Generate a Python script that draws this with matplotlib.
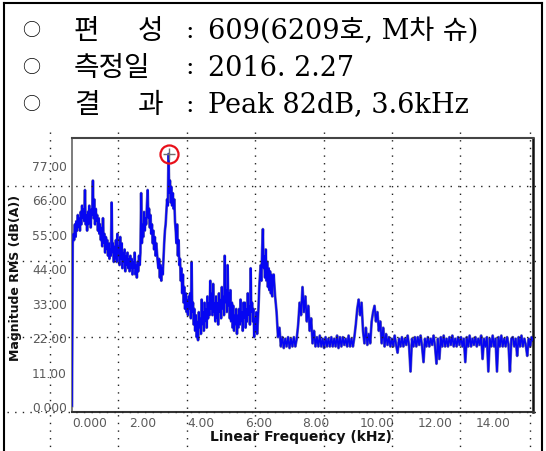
import numpy as np
import matplotlib
matplotlib.use("Agg")
import matplotlib.pyplot as plt
from matplotlib.lines import Line2D

# ---------------- data ----------------
# 0 - 6.975 kHz, read every 0.025 kHz
low_step_khz = 0.025
levels_low_db = [
    # 0.000 - 0.475
    0, 52, 55, 53, 58, 54, 59, 56, 61, 57, 60, 56, 62, 58, 64, 60, 63, 59, 69, 58,
    # 0.500 - 0.975
    61, 56, 62, 58, 64, 60, 57, 63, 61, 72, 60, 66, 58, 63, 59, 61, 56, 60, 55, 58,
    # 1.000 - 1.475
    53, 57, 51, 60, 52, 55, 49, 54, 50, 53, 48, 52, 47, 50, 48, 65, 49, 52, 46, 51,
    # 1.500 - 1.975
    47, 53, 46, 55, 48, 51, 45, 54, 47, 52, 44, 49, 46, 50, 43, 48, 45, 49, 44, 47,
    # 2.000 - 2.475
    43, 48, 44, 47, 42, 46, 44, 49, 42, 45, 41, 46, 43, 48, 45, 49, 68, 52, 58, 54,
    # 2.500 - 2.975
    62, 56, 60, 58, 64, 69, 60, 63, 57, 61, 55, 58, 52, 56, 50, 54, 48, 52, 49, 46,
    # 3.000 - 3.475
    44, 47, 41, 45, 40, 44, 42, 47, 52, 56, 58, 62, 66, 64, 80.5, 68, 72, 65, 70, 64,
    # 3.500 - 3.975
    68, 63, 66, 59, 56, 52, 58, 48, 53, 45, 47, 40, 44, 36, 42, 33, 38, 31, 36, 30,
    # 4.000 - 4.475
    34, 29, 35, 31, 36, 28, 46, 30, 33, 26, 31, 24, 29, 22, 27, 21, 30, 25, 28, 23,
    # 4.500 - 4.975
    34, 26, 30, 24, 33, 27, 31, 25, 35, 28, 33, 29, 40, 31, 36, 29, 39, 30, 33, 27,
    # 5.000 - 5.475
    35, 28, 33, 26, 36, 30, 34, 28, 38, 31, 35, 29, 48, 33, 37, 30, 45, 32, 36, 28,
    # 5.500 - 5.975
    37, 27, 33, 25, 32, 24, 29, 26, 31, 23, 29, 25, 31, 26, 34, 27, 30, 24, 33, 28,
    # 6.000 - 6.475
    33, 25, 31, 27, 36, 29, 32, 26, 44, 30, 33, 27, 31, 22, 28, 24, 30, 23, 27, 32,
    # 6.500 - 6.975
    38, 42, 45, 40, 50, 56.5, 44, 48, 41, 50, 40, 46, 38, 44, 37, 43, 36, 42, 35, 40,
]
# 7.00 - 16.00 kHz, read every 0.05 kHz
high_start_khz = 7.0
high_step_khz = 0.05
levels_high_db = [
    # 7.00 - 7.95
    42, 35, 30, 22, 25, 19, 22, 18.5, 21.5, 19, 22, 18.5, 21.5, 19, 22, 19, 21.5, 26, 33, 29,
    # 8.00 - 8.95
    38, 30, 35, 27, 32, 24, 28, 20, 24, 19, 22, 19, 22.5, 19, 21.5, 18.5, 22, 19, 21.5, 19,
    # 9.00 - 9.95
    22, 19, 21.5, 19, 22.5, 18.5, 22, 19, 22, 19.5, 21.5, 19, 22.5, 19, 21.5, 19, 22, 26, 31, 34,
    # 10.00 - 10.95
    29, 33, 24, 20, 25, 19.5, 23, 20, 27, 30, 32, 27, 30, 24, 27, 20, 25, 19, 23, 19.5,
    # 11.00 - 11.95
    22, 19, 21.5, 19, 22.5, 19.5, 17, 21.5, 19, 22, 19, 21.5, 19.5, 22.5, 19, 11, 21.5, 19, 22, 19,
    # 12.00 - 12.95
    22, 19.5, 22.5, 19, 14, 21.5, 19, 22, 19, 21.5, 19.5, 22.5, 19, 13.5, 21.5, 15, 22, 19, 22.5, 19,
    # 13.00 - 13.95
    21.5, 19, 22, 19.5, 22.5, 19, 21.5, 19, 22, 19.5, 22, 19, 21.5, 14, 22, 19, 22.5, 19, 21.5, 19.5,
    # 14.00 - 14.95
    22, 19, 21.5, 19.5, 22.5, 15, 21.5, 19, 22, 11, 21.5, 19, 22.5, 19, 21.5, 11, 22, 19, 22.5, 19,
    # 15.00 - 16.00
    21.5, 19, 22, 19.5, 11, 21.5, 22, 19, 21.5, 16, 22, 19, 22.5, 19, 21.5, 19.5, 16, 21.5, 19, 22, 21,
]
peak_freq_khz = 3.35
peak_level_db = 80.5

y_ticks = [0, 11, 22, 33, 44, 55, 66, 77]
y_tick_labels = ["0.000", "11.00", "22.00", "33.00", "44.00", "55.00", "66.00", "77.00"]
x_ticks = [0, 2, 4, 6, 8, 10, 12, 14]
x_tick_labels = ["0.000", "2.00", "4.00", "6.00", "8.00", "10.00", "12.00", "14.00"]

x_label = "Linear Frequency (kHz)"
y_label = "Magnitude RMS (dB(A))"

info_labels = [["편", "성"], ["측정일"], ["결", "과"]]
info_values = ["609(6209호, M차 슈)", "2016. 2.27", "Peak 82dB, 3.6kHz"]

freq_khz = np.concatenate([
    np.arange(len(levels_low_db)) * low_step_khz,
    high_start_khz + np.arange(len(levels_high_db)) * high_step_khz,
])
levels_db = np.array(levels_low_db + levels_high_db, dtype=float)

# ---------------- figure ----------------
W, H = 546, 452
fig = plt.figure(figsize=(W / 100, H / 100), dpi=100)


def fx(px):
    return px / W


def fy(py):
    return 1 - py / H


ax = fig.add_axes([fx(72), fy(413), fx(533) - fx(72), fy(139) - fy(413)])
ax.set_xlim(0, 16)
ax.set_ylim(-1.92, 85.6)

ax.plot(freq_khz, levels_db, color="#6a6ab0", lw=2.0, zorder=2)
ax.plot(freq_khz, levels_db, color="#0606f2", lw=1.2, zorder=3)

ax.plot([peak_freq_khz], [peak_level_db], "o", mfc="none", mec="#e8101a", ms=13, mew=1.6,
        clip_on=False, zorder=5)
ax.plot([peak_freq_khz], [peak_level_db], "+", color="#707070", ms=9, mew=1.0,
        clip_on=False, zorder=5)

ax.set_yticks(y_ticks)
ax.set_yticklabels(y_tick_labels)
ax.set_xticks(x_ticks)
ax.set_xticklabels(x_tick_labels)
ax.tick_params(axis="both", length=0, labelsize=8.8, labelcolor="#5a5a5a")
ax.tick_params(axis="y", pad=3.6)
ax.tick_params(axis="x", pad=3.0)
for lbl in ax.get_xticklabels():
    lbl.set_horizontalalignment("left")

ax.spines["top"].set_color("#444444")
ax.spines["top"].set_linewidth(1.5)
ax.spines["left"].set_color("#666666")
ax.spines["left"].set_linewidth(1.2)
ax.spines["bottom"].set_color("#333333")
ax.spines["bottom"].set_linewidth(1.5)
ax.spines["right"].set_color("#111111")
ax.spines["right"].set_linewidth(1.8)

fig.text(fx(301), fy(437), x_label, ha="center", va="center", fontsize=10,
         fontweight="bold", color="#111111")
fig.text(fx(16), fy(278), y_label, ha="center", va="center", rotation=90,
         fontsize=9, fontweight="bold", color="#111111")

# ---------------- header text ----------------
line_y = [31, 68, 105]
hangul_font = ["Noto Sans CJK KR"]
value_font = ["DejaVu Serif", "Noto Sans CJK KR"]
for i, yy in enumerate(line_y):
    fig.text(fx(22), fy(yy), "○", ha="left", va="center", fontsize=13,
             family=hangul_font, color="black")
    parts = info_labels[i]
    if len(parts) == 2:
        fig.text(fx(74), fy(yy), parts[0], ha="left", va="center", fontsize=20,
                 family=hangul_font, color="black")
        fig.text(fx(138), fy(yy), parts[1], ha="left", va="center", fontsize=20,
                 family=hangul_font, color="black")
    else:
        fig.text(fx(74), fy(yy), parts[0], ha="left", va="center", fontsize=20,
                 family=hangul_font, color="black")
    fig.text(fx(190), fy(yy), ":", ha="center", va="center", fontsize=18,
             family=value_font, color="black")
    fig.text(fx(208), fy(yy), info_values[i], ha="left", va="center", fontsize=19.5,
             family=value_font, color="black")

# ---------------- outer border & dotted overlay ----------------
border_kw = dict(color="black", lw=1.5, transform=fig.transFigure, zorder=10)
fig.add_artist(Line2D([fx(4), fx(4)], [fy(4), fy(452)], **border_kw))
fig.add_artist(Line2D([fx(542), fx(542)], [fy(4), fy(452)], **border_kw))
fig.add_artist(Line2D([fx(4), fx(542)], [fy(4), fy(4)], **border_kw))

dot_kw = dict(color="#222222", lw=1.0, linestyle=(0, (1, 4.5)),
              transform=fig.transFigure, zorder=6)
for vx in [50, 118, 187, 255, 324, 392, 460, 530]:
    fig.add_artist(Line2D([fx(vx), fx(vx)], [fy(133), fy(452)], **dot_kw))
for hy in [187, 262, 338, 413]:
    fig.add_artist(Line2D([fx(7), fx(541)], [fy(hy), fy(hy)], **dot_kw))

fig.savefig("out.png", dpi=100)
